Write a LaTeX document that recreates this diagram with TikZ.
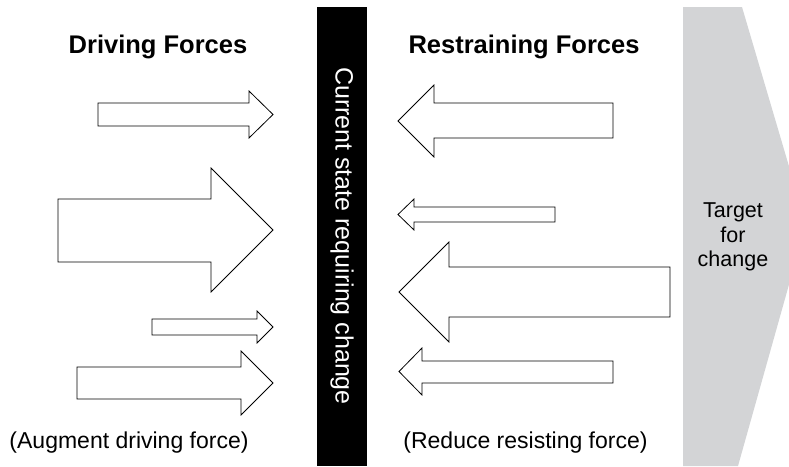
\documentclass[tikz,border=0pt]{standalone}
\usepackage{fontspec}
\setmainfont{Liberation Sans}
\definecolor{targetgray}{RGB}{211,212,214}
\begin{document}
\begin{tikzpicture}[x=1pt,y=-1pt,
  forcearrow/.style={draw=black,fill=white,line width=0.8pt,line join=miter},
  heading/.style={font=\fontsize{25.5}{30}\selectfont\bfseries,anchor=center,inner sep=0pt},
  note/.style={font=\fontsize{23}{27}\selectfont,anchor=center,inner sep=0pt},
]
\useasboundingbox (0,0) rectangle (789,466);
\clip (0,0) rectangle (789,466);

% target block on the right
\fill[targetgray] (683,7) -- (742,7) -- (806,224) -- (738,466) -- (683,466) -- cycle;
\node[align=center,inner sep=0pt,font=\fontsize{21.5}{24.5}\selectfont] (target) at (733,237) {Target\\for\\change};

% current state bar
\fill[black] (317,7) rectangle (367,466);
\node[rotate=-90,text=white,inner sep=0pt,font=\fontsize{25}{30}\selectfont] (current) at (342,236) {Current state requiring change};

% headings
\node[heading] (driving) at (158,47) {Driving Forces};
\node[heading] (restraining) at (524,47) {Restraining Forces};

% driving forces
\draw[forcearrow] (98,103) -- (249,103) -- (249,91) -- (273,114.5) -- (249,138) -- (249,126) -- (98,126) -- cycle;
\draw[forcearrow] (58,199) -- (211,199) -- (211,168) -- (273,230) -- (211,292) -- (211,262) -- (58,262) -- cycle;
\draw[forcearrow] (152,319) -- (257,319) -- (257,311) -- (273,327) -- (257,343) -- (257,335) -- (152,335) -- cycle;
\draw[forcearrow] (77,367) -- (241,367) -- (241,351) -- (273,383) -- (241,415) -- (241,399) -- (77,399) -- cycle;

% restraining forces
\draw[forcearrow] (613,103) -- (434,103) -- (434,85) -- (398,121) -- (434,157) -- (434,138) -- (613,138) -- cycle;
\draw[forcearrow] (555,207) -- (414,207) -- (414,199) -- (398,214.5) -- (414,230) -- (414,222) -- (555,222) -- cycle;
\draw[forcearrow] (670,267) -- (449,267) -- (449,242) -- (399,292) -- (449,342) -- (449,317) -- (670,317) -- cycle;
\draw[forcearrow] (613,361) -- (422,361) -- (422,348) -- (399,371.5) -- (422,395) -- (422,383) -- (613,383) -- cycle;

% notes
\node[note] (augment) at (129,443) {(Augment driving force)};
\node[note] (reduce) at (525.5,443) {(Reduce resisting force)};
\end{tikzpicture}
\end{document}
